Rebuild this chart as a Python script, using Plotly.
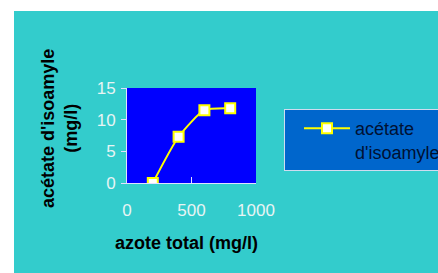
import plotly.graph_objects as go

azote = [200, 400, 600, 800]
acetate = [0, 7.3, 11.5, 11.8]
series_name = "acétate<br>d'isoamyle"
x_ticks = [0, 500, 1000]
y_ticks = [0, 5, 10, 15]

L, R, T, B = 127, 256, 88, 183
W, H = 438, 273
pw, ph = R - L, B - T

def px(xpix):
    return (xpix - L) / pw

def py(ypix):
    return (B - ypix) / ph

fig = go.Figure()
fig.add_trace(go.Scatter(
    x=azote, y=acetate, mode="lines+markers", name=series_name,
    line=dict(color="#FFFF00", width=2, shape="spline", smoothing=0.6),
    marker=dict(symbol="square", size=10, color="#FFFFFF",
                line=dict(color="#FFFF00", width=2)),
    showlegend=True,
))

white_strips = [
    dict(type="rect", xref="paper", yref="paper", layer="below",
         x0=px(-20), x1=px(460), y0=py(11), y1=py(-20),
         fillcolor="#FFFFFF", line=dict(width=0)),
    dict(type="rect", xref="paper", yref="paper", layer="below",
         x0=px(-20), x1=px(14), y0=py(300), y1=py(-20),
         fillcolor="#FFFFFF", line=dict(width=0)),
]

fig.update_layout(
    width=W, height=H,
    margin=dict(l=L, r=W - R, t=T, b=H - B, autoexpand=False),
    paper_bgcolor="#33CCCC",
    plot_bgcolor="#0000FF",
    font=dict(family="Arial, Liberation Sans, sans-serif", size=17, color="#E8F4F4"),
    showlegend=True,
    legend=dict(
        x=px(284), y=py(109), xanchor="left", yanchor="top",
        bgcolor="#0066CC", bordercolor="#D0DCF0", borderwidth=1,
        font=dict(size=18, color="#001133"),
        itemwidth=46, indentation=14, valign="top",
    ),
    shapes=white_strips,
    annotations=[
        dict(text="azote total (mg/l)", xref="paper", yref="paper",
             x=px(186), y=py(243), xanchor="center", yanchor="middle",
             showarrow=False,
             font=dict(size=18, color="#000000", weight="bold")),
        dict(text="acétate d'isoamyle<br>(mg/l)", xref="paper", yref="paper",
             x=px(59), y=py(129), xanchor="center", yanchor="middle",
             showarrow=False, textangle=-90,
             font=dict(size=18, color="#000000", weight="bold")),
    ],
)

fig.update_xaxes(
    range=[0, 1000], tickvals=x_ticks, showgrid=False, zeroline=False,
    showline=True, linecolor="#E0E0FF", linewidth=1, automargin=False,
    ticks="inside", ticklen=6, tickcolor="#E0E0FF", ticklabelstandoff=12,
)
fig.update_yaxes(
    range=[0, 15], tickvals=y_ticks, showgrid=False, zeroline=False,
    showline=True, linecolor="#E0E0FF", linewidth=1, automargin=False,
    ticks="outside", ticklen=5, tickcolor="#E0E0FF", ticklabelstandoff=2,
)

fig.write_html("out.html", config={"displayModeBar": False},
               post_script="document.body.style.margin='0';document.body.style.overflow='hidden';")
